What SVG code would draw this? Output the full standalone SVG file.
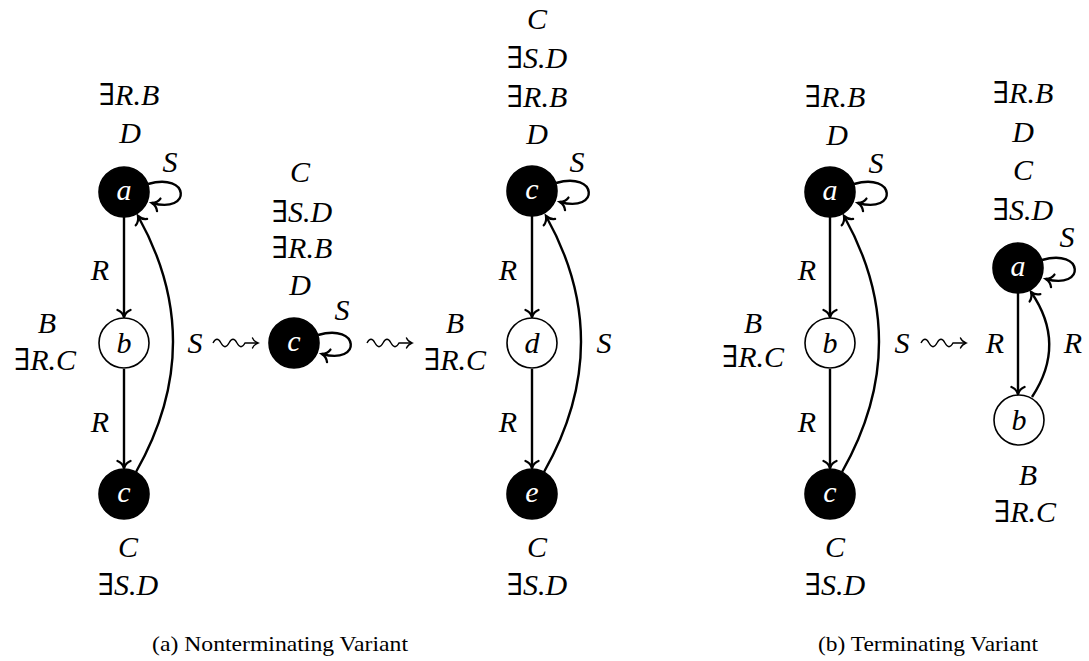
<svg xmlns="http://www.w3.org/2000/svg" xmlns:xlink="http://www.w3.org/1999/xlink" width="1089" height="661" viewBox="0 0 1089 661">
  <style>
    .m { font-family: "Liberation Serif", "DejaVu Serif", serif; font-style: italic; font-size: 30px; fill: #000; text-anchor: middle; }
    .q { font-style: normal; }
    .nl { font-family: "Liberation Serif", "DejaVu Serif", serif; font-style: italic; font-size: 30px; text-anchor: middle; }
    .nlw { fill: #fff; }
    .nlb { fill: #000; }
    .cap { font-family: "Liberation Serif", "DejaVu Serif", serif; font-size: 21px; fill: #000; }
    .blk { fill: #000; stroke: #000; stroke-width: 1.6; }
    .wht { fill: #fff; stroke: #000; stroke-width: 1.6; }
    .e { fill: none; stroke: #000; stroke-width: 2.4; marker-end: url(#to); }
    .sq { fill: none; stroke: #000; stroke-width: 1.4; marker-end: url(#toThin); }
  </style>
  <defs>
    <marker id="to" viewBox="-10 -10 20 20" refX="0" refY="0" markerWidth="20" markerHeight="20" markerUnits="userSpaceOnUse" orient="auto">
      <path d="M -7,-6.5 C -5.5,-2.4 -1.6,-0.6 0,0 C -1.6,0.6 -5.5,2.4 -7,6.5" fill="none" stroke="#000" stroke-width="2.3" stroke-linecap="round"/>
    </marker>
    <marker id="toThin" viewBox="-10 -10 20 20" refX="0" refY="0" markerWidth="20" markerHeight="20" markerUnits="userSpaceOnUse" orient="auto">
      <path d="M -5.5,-5 C -4.2,-1.9 -1.3,-0.5 0,0 C -1.3,0.5 -4.2,1.9 -5.5,5" fill="none" stroke="#000" stroke-width="1.4" stroke-linecap="round"/>
    </marker>
    <!-- rewriting-step arrow: wavy shaft then straight tip -->
    <path id="leadsto" class="sq" d="M0,0 c2.7,-5 5.3,-5 8,0 s5.3,5 8,0 s5.3,-5 8,0 s5.3,5 8,0 l13,0"/>
  </defs>

  <!-- connectors -->
  <g id="connectors">
    <!-- (a) left graph -->
    <path class="e" d="M124 217 V317"/>
    <path class="e" d="M124 369 V468"/>
    <path class="e" d="M136 472 Q209 343 138 216"/>
    <path class="e" d="M148 184 C190 172 192 214 152 203"/>
    <!-- (a) middle -->
    <path class="e" d="M318 335 C360 323 362 365 322 354"/>
    <!-- (a) right graph -->
    <path class="e" d="M532 216 V317"/>
    <path class="e" d="M532 369 V468"/>
    <path class="e" d="M544 472 Q617 343 546 216"/>
    <path class="e" d="M556 183 C598 171 600 213 560 202"/>
    <!-- (b) left graph -->
    <path class="e" d="M830 217 V317"/>
    <path class="e" d="M830 369 V468"/>
    <path class="e" d="M842 472 Q915 343 844 216"/>
    <path class="e" d="M854 184 C896 172 898 214 858 203"/>
    <!-- (b) right graph -->
    <path class="e" d="M1018 293 V394"/>
    <path class="e" d="M1032 397 Q1067 344 1031 292"/>
    <path class="e" d="M1042 260 C1084 248 1086 290 1046 279"/>
    <!-- rewriting steps -->
    <use xlink:href="#leadsto" x="213" y="343"/>
    <use xlink:href="#leadsto" x="367" y="343"/>
    <use xlink:href="#leadsto" x="921" y="343"/>
  </g>

  <!-- edge labels -->
  <g id="edge-labels">
    <text class="m" x="100" y="280">R</text>
    <text class="m" x="100" y="432">R</text>
    <text class="m" x="195" y="353">S</text>
    <text class="m" x="170" y="172">S</text>
    <text class="m" x="342" y="320">S</text>
    <text class="m" x="508" y="280">R</text>
    <text class="m" x="508" y="432">R</text>
    <text class="m" x="604" y="353">S</text>
    <text class="m" x="577" y="172">S</text>
    <text class="m" x="807" y="280">R</text>
    <text class="m" x="807" y="432">R</text>
    <text class="m" x="902" y="353">S</text>
    <text class="m" x="876" y="173">S</text>
    <text class="m" x="995" y="353">R</text>
    <text class="m" x="1073" y="353">R</text>
    <text class="m" x="1067" y="247">S</text>
  </g>

  <!-- (a) nonterminating: left graph -->
  <g id="a1-a">
    <circle class="blk" cx="124" cy="192" r="25"/>
    <text class="nl nlw" x="124" y="200">a</text>
    <text class="m" x="129" y="105"><tspan class="q">∃</tspan>R.B</text>
    <text class="m" x="130" y="143">D</text>
  </g>
  <g id="a1-b">
    <circle class="wht" cx="124" cy="343" r="25"/>
    <text class="nl nlb" x="124" y="353">b</text>
    <text class="m" x="47" y="333">B</text>
    <text class="m" x="45" y="370"><tspan class="q">∃</tspan>R.C</text>
  </g>
  <g id="a1-c">
    <circle class="blk" cx="124" cy="494" r="25"/>
    <text class="nl nlw" x="124" y="502">c</text>
    <text class="m" x="128" y="557">C</text>
    <text class="m" x="128" y="595"><tspan class="q">∃</tspan>S.D</text>
  </g>

  <!-- (a) nonterminating: middle node -->
  <g id="a2-c">
    <circle class="blk" cx="294" cy="343" r="25"/>
    <text class="nl nlw" x="294" y="351">c</text>
    <text class="m" x="300" y="182">C</text>
    <text class="m" x="302" y="222"><tspan class="q">∃</tspan>S.D</text>
    <text class="m" x="302" y="258"><tspan class="q">∃</tspan>R.B</text>
    <text class="m" x="300" y="295">D</text>
  </g>

  <!-- (a) nonterminating: right graph -->
  <g id="a3-c">
    <circle class="blk" cx="532" cy="191" r="25"/>
    <text class="nl nlw" x="532" y="199">c</text>
    <text class="m" x="537" y="29">C</text>
    <text class="m" x="537" y="68"><tspan class="q">∃</tspan>S.D</text>
    <text class="m" x="537" y="107"><tspan class="q">∃</tspan>R.B</text>
    <text class="m" x="537" y="144">D</text>
  </g>
  <g id="a3-d">
    <circle class="wht" cx="532" cy="343" r="25"/>
    <text class="nl nlb" x="532" y="353">d</text>
    <text class="m" x="455" y="333">B</text>
    <text class="m" x="455" y="370"><tspan class="q">∃</tspan>R.C</text>
  </g>
  <g id="a3-e">
    <circle class="blk" cx="532" cy="494" r="25"/>
    <text class="nl nlw" x="532" y="502">e</text>
    <text class="m" x="537" y="557">C</text>
    <text class="m" x="537" y="595"><tspan class="q">∃</tspan>S.D</text>
  </g>

  <!-- (b) terminating: left graph -->
  <g id="b1-a">
    <circle class="blk" cx="830" cy="192" r="25"/>
    <text class="nl nlw" x="830" y="200">a</text>
    <text class="m" x="835" y="107"><tspan class="q">∃</tspan>R.B</text>
    <text class="m" x="837" y="145">D</text>
  </g>
  <g id="b1-b">
    <circle class="wht" cx="830" cy="343" r="25"/>
    <text class="nl nlb" x="830" y="353">b</text>
    <text class="m" x="753" y="333">B</text>
    <text class="m" x="753" y="367"><tspan class="q">∃</tspan>R.C</text>
  </g>
  <g id="b1-c">
    <circle class="blk" cx="830" cy="494" r="25"/>
    <text class="nl nlw" x="830" y="502">c</text>
    <text class="m" x="835" y="557">C</text>
    <text class="m" x="835" y="595"><tspan class="q">∃</tspan>S.D</text>
  </g>

  <!-- (b) terminating: right graph -->
  <g id="b2-a">
    <circle class="blk" cx="1018" cy="268" r="25"/>
    <text class="nl nlw" x="1018" y="276">a</text>
    <text class="m" x="1023" y="103"><tspan class="q">∃</tspan>R.B</text>
    <text class="m" x="1023" y="142">D</text>
    <text class="m" x="1023" y="180">C</text>
    <text class="m" x="1023" y="220"><tspan class="q">∃</tspan>S.D</text>
  </g>
  <g id="b2-b">
    <circle class="wht" cx="1019" cy="420" r="25"/>
    <text class="nl nlb" x="1019" y="430">b</text>
    <text class="m" x="1028" y="485">B</text>
    <text class="m" x="1025" y="522"><tspan class="q">∃</tspan>R.C</text>
  </g>

  <!-- captions -->
  <g id="captions">
    <text class="cap" x="152" y="651" textLength="256" lengthAdjust="spacingAndGlyphs">(a) Nonterminating Variant</text>
    <text class="cap" x="818" y="651" textLength="220" lengthAdjust="spacingAndGlyphs">(b) Terminating Variant</text>
  </g>
</svg>
